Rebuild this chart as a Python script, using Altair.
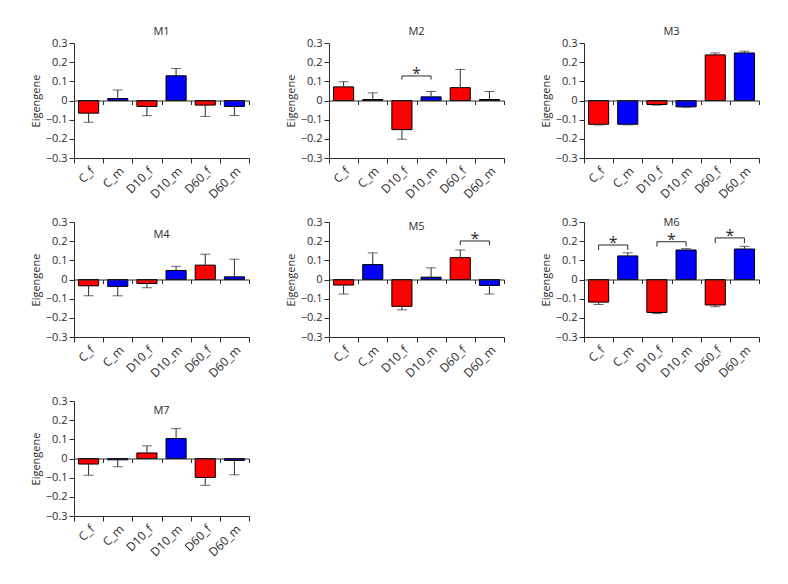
import altair as alt
import pandas as pd

categories = ["C_f", "C_m", "D10_f", "D10_m", "D60_f", "D60_m"]
sexes = ["f", "m", "f", "m", "f", "m"]
modules = ["M1", "M2", "M3", "M4", "M5", "M6", "M7"]

M1_mean = [-0.066, 0.010, -0.031, 0.129, -0.024, -0.031]
M1_sem = [0.048, 0.045, 0.048, 0.038, 0.059, 0.047]
M2_mean = [0.071, 0.005, -0.152, 0.019, 0.067, 0.005]
M2_sem = [0.027, 0.035, 0.050, 0.028, 0.095, 0.042]
M3_mean = [-0.124, -0.124, -0.021, -0.033, 0.238, 0.248]
M3_sem = [0.004, 0.003, 0.003, 0.002, 0.010, 0.009]
M4_mean = [-0.033, -0.036, -0.021, 0.047, 0.075, 0.014]
M4_sem = [0.052, 0.049, 0.022, 0.022, 0.057, 0.092]
M5_mean = [-0.029, 0.078, -0.140, 0.012, 0.114, -0.031]
M5_sem = [0.046, 0.061, 0.018, 0.049, 0.040, 0.045]
M6_mean = [-0.118, 0.123, -0.172, 0.154, -0.133, 0.159]
M6_sem = [0.012, 0.016, 0.006, 0.007, 0.009, 0.014]
M7_mean = [-0.029, -0.007, 0.029, 0.104, -0.099, -0.010]
M7_sem = [0.058, 0.036, 0.037, 0.052, 0.041, 0.075]

means = {"M1": M1_mean, "M2": M2_mean, "M3": M3_mean, "M4": M4_mean,
         "M5": M5_mean, "M6": M6_mean, "M7": M7_mean}
sems = {"M1": M1_sem, "M2": M2_sem, "M3": M3_sem, "M4": M4_sem,
        "M5": M5_sem, "M6": M6_sem, "M7": M7_sem}

# significance brackets
sig_module = ["M2", "M5", "M6", "M6", "M6"]
sig_left = ["D10_f", "D60_f", "C_f", "D10_f", "D60_f"]
sig_right = ["D10_m", "D60_m", "C_m", "D10_m", "D60_m"]
sig_top = [0.128, 0.201, 0.180, 0.197, 0.217]
sig_drop = [0.109, 0.179, 0.154, 0.172, 0.190]

y_ticks = [-0.3, -0.2, -0.1, 0, 0.1, 0.2, 0.3]

title_offset = {"M1": 0, "M2": 0, "M3": 0, "M4": -24, "M5": -16, "M6": -12, "M7": -21}

W, H = 175, 115
INK = "#2b2b2b"

xscale = alt.Scale(domain=categories, paddingInner=0, paddingOuter=0)
yscale = alt.Scale(domain=[-0.3, 0.3], nice=False, zero=False)


def panel(m):
    mv = means[m]
    sv = sems[m]
    end = [a + (s if a >= 0 else -s) for a, s in zip(mv, sv)]
    df = pd.DataFrame({"cat": categories, "sex": sexes, "mean": mv, "end": end})
    base = alt.Chart(df)

    bars = base.mark_bar(width=alt.RelativeBandSize(0.69), stroke="black", strokeWidth=1).encode(
        x=alt.X("cat:N", scale=xscale, sort=categories,
                axis=alt.Axis(title=None, labelAngle=-45, tickBand="extent", tickSize=5,
                              labelPadding=2, labelFontSize=12,
                              domainColor=INK, tickColor=INK, orient="bottom")),
        y=alt.Y("mean:Q", scale=yscale,
                axis=alt.Axis(title="Eigengene", values=y_ticks, tickSize=5, labelPadding=2,
                              titlePadding=4, orient="left",
                              labelExpr="datum.value == 0 ? '0' : replace(format(datum.value, '.1f'), '-', '\u2212')")),
        color=alt.Color("sex:N", scale=alt.Scale(domain=["f", "m"], range=["#ff0000", "#0000ff"]), legend=None),
    )
    err = base.mark_rule(color=INK, strokeWidth=1).encode(
        x=alt.X("cat:N", scale=xscale, sort=categories,
                axis=alt.Axis(orient="bottom", offset=-H / 2, labels=False, title=None,
                              tickBand="extent", tickSize=4, domainColor=INK, tickColor=INK, zindex=1)),
        y=alt.Y("mean:Q", scale=yscale, axis=None),
        y2="end:Q",
    )
    caps = base.mark_tick(color=INK, size=10, thickness=1).encode(
        x=alt.X("cat:N", scale=xscale, sort=categories, axis=None),
        y=alt.Y("end:Q", scale=yscale, axis=None),
    )
    layers = [bars, err, caps]

    idx = [i for i, mm in enumerate(sig_module) if mm == m]
    if idx:
        rows = []
        stars = []
        for k in idx:
            rows += [
                {"b": k, "o": 0, "cat": sig_left[k], "y": sig_drop[k]},
                {"b": k, "o": 1, "cat": sig_left[k], "y": sig_top[k]},
                {"b": k, "o": 2, "cat": sig_right[k], "y": sig_top[k]},
                {"b": k, "o": 3, "cat": sig_right[k], "y": sig_drop[k]},
            ]
            stars.append({"cat": sig_left[k], "y": sig_top[k]})
        brackets = alt.Chart(pd.DataFrame(rows)).mark_line(color=INK, strokeWidth=1).encode(
            x=alt.X("cat:N", scale=xscale, sort=categories, axis=None),
            y=alt.Y("y:Q", scale=yscale, axis=None),
            detail="b:N",
            order="o:Q",
        )
        star = alt.Chart(pd.DataFrame(stars)).mark_text(
            text="*", fontSize=16, baseline="alphabetic", dy=3, color=INK, font="Open Sans"
        ).encode(
            x=alt.X("cat:N", scale=xscale, sort=categories, axis=None, bandPosition=1),
            y=alt.Y("y:Q", scale=yscale, axis=None),
        )
        layers += [brackets, star]

    return alt.layer(*layers).resolve_axis(x="independent", y="independent").properties(
        width=W, height=H,
        title=alt.Title(m, offset=title_offset[m], fontSize=11, fontWeight="normal",
                        color=INK, anchor="middle", font="Open Sans"),
    )


chart = alt.concat(*[panel(m) for m in modules], columns=3,
                   spacing={"row": 64, "column": 80}, bounds="flush").properties(
    padding={"left": 22, "top": 18, "right": 5, "bottom": 5},
    background="white",
).configure_view(stroke=None).configure_axis(
    grid=False, labelFont="Open Sans", titleFont="Open Sans", labelFontSize=11,
    titleFontSize=11, titleFontWeight="normal", labelColor=INK, titleColor=INK,
    domainColor=INK, tickColor=INK,
)

chart.save("out.html", embed_options={"renderer": "svg", "actions": False})
